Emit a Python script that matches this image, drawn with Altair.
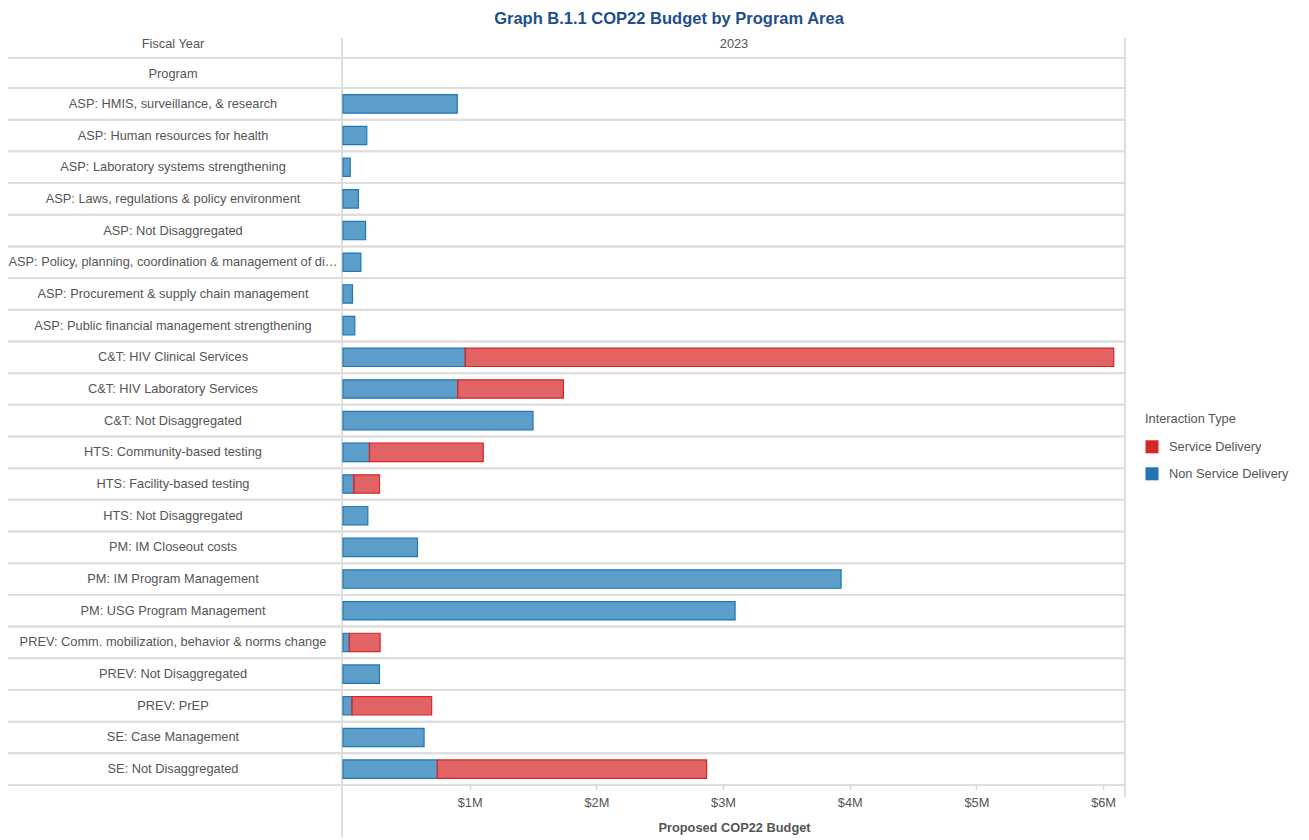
import altair as alt
import pandas as pd

programs = [
    "ASP: HMIS, surveillance, & research",
    "ASP: Human resources for health",
    "ASP: Laboratory systems strengthening",
    "ASP: Laws, regulations & policy environment",
    "ASP: Not Disaggregated",
    "ASP: Policy, planning, coordination & management of disease control programs",
    "ASP: Procurement & supply chain management",
    "ASP: Public financial management strengthening",
    "C&T: HIV Clinical Services",
    "C&T: HIV Laboratory Services",
    "C&T: Not Disaggregated",
    "HTS: Community-based testing",
    "HTS: Facility-based testing",
    "HTS: Not Disaggregated",
    "PM: IM Closeout costs",
    "PM: IM Program Management",
    "PM: USG Program Management",
    "PREV: Comm. mobilization, behavior & norms change",
    "PREV: Not Disaggregated",
    "PREV: PrEP",
    "SE: Case Management",
    "SE: Not Disaggregated",
]
# values in $M
non_service_delivery = [0.902, 0.188, 0.057, 0.122, 0.178, 0.141, 0.075, 0.093,
                        0.965, 0.905, 1.500, 0.209, 0.085, 0.196, 0.588, 3.932,
                        3.095, 0.050, 0.288, 0.070, 0.640, 0.745]
service_delivery = [0, 0, 0, 0, 0, 0, 0, 0,
                    5.119, 0.835, 0, 0.898, 0.203, 0, 0, 0,
                    0, 0.243, 0, 0.630, 0, 2.125]
types = ["Service Delivery", "Non Service Delivery"]
type_colors = ["#d62728", "#1f77b4"]
tick_values = [1, 2, 3, 4, 5, 6]

rows = []
for p, n, s in zip(programs, non_service_delivery, service_delivery):
    rows.append({"Program": p, "Type": "Non Service Delivery", "Budget": n * 1e6, "ord": 0})
    if s > 0:
        rows.append({"Program": p, "Type": "Service Delivery", "Budget": s * 1e6, "ord": 1})
df = pd.DataFrame(rows)
lab = pd.DataFrame({"Program": programs})

W, H = 782, 697
FONT = "Liberation Sans"
GRAY = "#555555"
LINE = "#dedede"
FS = 12.8

yscale = alt.Scale(paddingInner=0, paddingOuter=0, domain=programs)

bars = alt.Chart(df).mark_bar(
    height={"band": 0.58}, fillOpacity=0.72, strokeWidth=1.2
).encode(
    x=alt.X("Budget:Q", stack="zero",
            scale=alt.Scale(domain=[0, 6.173e6], nice=False, zero=True),
            axis=alt.Axis(values=[v * 1e6 for v in tick_values],
                          labelExpr="'$' + format(datum.value/1e6, 'd') + 'M'",
                          title="Proposed COP22 Budget", grid=False, domain=False,
                          tickColor="#d8d8d8", tickSize=5, tickWidth=1.5,
                          labelFont=FONT, labelFontSize=FS, labelColor=GRAY,
                          labelPadding=6, titleFont=FONT, titleFontSize=FS,
                          titleColor=GRAY, titleFontWeight="bold", titlePadding=13)),
    y=alt.Y("Program:N", sort=programs, scale=yscale, axis=None),
    color=alt.Color("Type:N", scale=alt.Scale(domain=types, range=type_colors),
                    legend=alt.Legend(title="Interaction Type", orient="none",
                                      legendX=802, legendY=325, symbolType="square",
                                      symbolSize=170, symbolOpacity=1, symbolStrokeWidth=0,
                                      titleFont=FONT, titleFontSize=FS,
                                      titleFontWeight="normal", titleColor=GRAY,
                                      titlePadding=14, labelFont=FONT,
                                      labelFontSize=FS, labelColor=GRAY,
                                      rowPadding=13, labelOffset=10)),
    stroke=alt.Stroke("Type:N", scale=alt.Scale(domain=types, range=type_colors), legend=None),
    order=alt.Order("ord:Q"),
)

labels = alt.Chart(lab).mark_text(
    align="center", baseline="middle", font=FONT, fontSize=FS, color=GRAY, limit=332
).encode(
    y=alt.Y("Program:N", sort=programs, scale=yscale, axis=None),
    x=alt.value(-170),
    text="Program:N",
)

sep_top = alt.Chart(lab).mark_rule(color=LINE, strokeWidth=2).encode(
    y=alt.Y("Program:N", sort=programs, scale=yscale, axis=None, bandPosition=0),
    x=alt.value(-338), x2=alt.value(W),
)
sep_bot = alt.Chart(lab).mark_rule(color=LINE, strokeWidth=2).encode(
    y=alt.Y("Program:N", sort=programs, scale=yscale, axis=None, bandPosition=1),
    x=alt.value(-338), x2=alt.value(W),
)
head_line = alt.Chart(lab).mark_rule(color=LINE, strokeWidth=2).encode(
    y=alt.value(-30), x=alt.value(-338), x2=alt.value(W),
)
vline_left = alt.Chart(lab).mark_rule(color=LINE, strokeWidth=2).encode(
    x=alt.value(-1), y=alt.value(-50), y2=alt.value(H + 60),
)
vline_right = alt.Chart(lab).mark_rule(color=LINE, strokeWidth=2).encode(
    x=alt.value(W), y=alt.value(-50), y2=alt.value(H + 12),
)

hdr = pd.DataFrame({"t": ["Fiscal Year", "2023", "Program"],
                    "px": [-170, W / 2, -170], "py": [-44, -44, -14]})
headers = alt.Chart(hdr).mark_text(
    align="center", baseline="middle", font=FONT, fontSize=FS, color=GRAY
).encode(
    x=alt.X("px:Q", scale=None), y=alt.Y("py:Q", scale=None), text="t:N"
)

chart = alt.layer(
    sep_top, sep_bot, head_line, vline_left, vline_right, bars, labels, headers
).properties(
    width=W, height=H,
    autosize=alt.AutoSizeParams(type="none"),
    padding={"left": 335, "top": 80, "right": 170, "bottom": 52},
    title=alt.TitleParams("Graph B.1.1 COP22 Budget by Program Area", anchor="middle",
                          frame="group", dx=-65, offset=10, font=FONT, fontSize=16.5,
                          fontWeight="bold", color="#1f4e8c"),
).configure_view(stroke=None)

chart.save("out.html", embed_options={"renderer": "svg", "actions": False})
